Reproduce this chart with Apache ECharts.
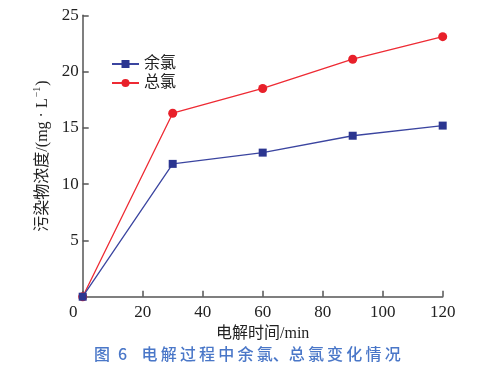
<!DOCTYPE html>
<html><head><meta charset="utf-8">
<script src="https://cdn.jsdelivr.net/npm/echarts@6/dist/echarts.min.js"></script>
<style>html,body{margin:0;padding:0;background:#fff}#c{width:502px;height:367px}</style>
</head><body><div id="c"></div>
<script>
const times = [0, 30, 60, 90, 120];
const residualChlorine = [0, 11.8, 12.8, 14.3, 15.2];
const totalChlorine = [0, 16.3, 18.5, 21.1, 23.1];
const seriesNames = ['余氯', '总氯'];
const xName = '电解时间/min';
const yNameMain = '污染物浓度/(mg · L';
const yNameSup = '−1';
const caption = '图\u20026\u2002\u2009\u2009电\u2009解\u2009过\u2009程\u2009中\u2009余\u2009氯\u3001总\u2009氯\u2009变\u2009化\u2009情\u2009况';

const chart = echarts.init(document.getElementById('c'), null, {renderer: 'canvas'});
const pair = (xs, ys) => xs.map((x, i) => [x, ys[i]]);
const numFont = '"Liberation Serif", "DejaVu Serif", serif';
const cjkFont = '"Liberation Serif", "Noto Sans CJK SC", serif';
const axisCommon = {
  axisLine: {show: true, onZero: false, lineStyle: {color: '#555', width: 1.5}},
  axisTick: {show: true, inside: true, length: 6, lineStyle: {color: '#555', width: 1.5}},
  splitLine: {show: false},
  axisLabel: {color: '#222', fontFamily: numFont, fontSize: 17}
};
chart.setOption({
  animation: false,
  backgroundColor: '#fff',
  grid: {left: 82.7, right: 59.3, top: 15.3, bottom: 70.3, containLabel: false},
  title: {
    text: caption, left: 89, top: 341,
    textStyle: {color: '#4a77c8', fontFamily: '"Noto Sans CJK SC", sans-serif', fontSize: 16, fontWeight: 500}
  },
  legend: {
    orient: 'vertical', left: 106, top: 51, itemWidth: 27, itemHeight: 10, itemGap: 3,
    textStyle: {fontFamily: cjkFont, fontSize: 16, lineHeight: 16, color: '#222', padding: [0, 0, 0, 0]},
    data: seriesNames
  },
  xAxis: Object.assign({}, axisCommon, {
    type: 'value', min: 0, max: 120, interval: 20,
    name: xName, nameLocation: 'middle', nameGap: 25,
    nameTextStyle: {fontFamily: cjkFont, fontSize: 16, color: '#222'},
    axisLabel: Object.assign({}, axisCommon.axisLabel, {
      margin: 7,
      formatter: v => v === 0 ? '{o|0}' : String(v),
      rich: {o: {fontFamily: numFont, fontSize: 17, color: '#222', padding: [0, 19, 0, 0]}}
    })
  }),
  yAxis: Object.assign({}, axisCommon, {
    type: 'value', min: 0, max: 25, interval: 5,
    name: '{m|' + yNameMain + '}{s|' + yNameSup + '}{m|)}',
    nameLocation: 'middle', nameGap: 28, nameRotate: 90,
    nameTextStyle: {
      fontFamily: cjkFont, fontSize: 16, color: '#222',
      rich: {
        m: {fontFamily: cjkFont, fontSize: 16, color: '#222', lineHeight: 20},
        s: {fontFamily: numFont, fontSize: 10, color: '#222', verticalAlign: 'top', lineHeight: 20, padding: [0, 1, 0, 1]}
      }
    },
    axisLabel: Object.assign({}, axisCommon.axisLabel, {margin: 4, showMinLabel: false})
  }),
  series: [
    {name: seriesNames[0], type: 'line', data: pair(times, residualChlorine),
     symbol: 'rect', symbolSize: 8, color: '#2b3590',
     lineStyle: {width: 1.3, color: '#3b45a0'}, itemStyle: {color: '#2b3590'}, z: 3},
    {name: seriesNames[1], type: 'line', data: pair(times, totalChlorine),
     symbol: 'circle', symbolSize: 9, color: '#e8202a',
     lineStyle: {width: 1.3, color: '#ee2a33'}, itemStyle: {color: '#e8202a'}, z: 2}
  ]
});
</script></body></html>
